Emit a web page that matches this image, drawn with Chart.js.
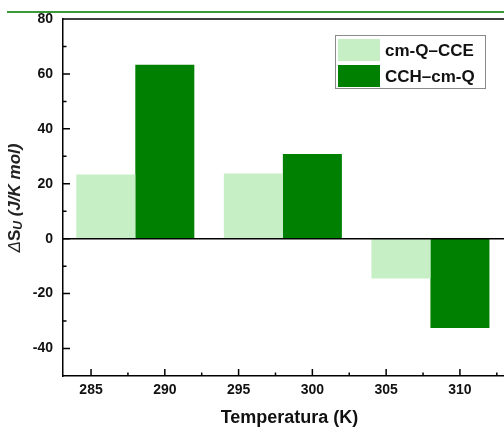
<!DOCTYPE html>
<html>
<head>
<meta charset="utf-8">
<script src="https://cdn.jsdelivr.net/npm/chart.js@4.4.0/dist/chart.umd.min.js"></script>
<style>
  html, body { margin: 0; padding: 0; background: #fff; overflow: hidden; }
  #wrap { position: relative; width: 504px; height: 430px; overflow: hidden; }
  #plot { position: absolute; left: 0; top: 0; }
  #topRule { position: absolute; left: 7px; top: 11px; width: 497px; height: 2px; background: #3a9a3a; }
</style>
</head>
<body>
<div id="wrap">
  <canvas id="plot" width="516" height="430"></canvas>
  <div id="topRule"></div>
</div>
<script>
// Group centres (K) and entropy change for each series
const temps = [288, 298, 308];
const seriesNames = ['cm-Q\u2013CCE', 'CCH\u2013cm-Q'];
const cceValues = [23.4, 23.7, -14.5];
const cchValues = [63.3, 30.8, -32.5];
const xTickLabels = [285, 290, 295, 300, 305, 310];
const yTickLabels = [-40, -20, 0, 20, 40, 60, 80];

const FONT = "'Liberation Sans', Arial, sans-serif";
const X_MIN = 283.1, X_MAX = 313.8;

const near = (v, list) => list.some(t => Math.abs(t - v) < 1e-6);

// box, zero line, inward ticks, legend and y title
const framePlugin = {
    id: 'frame',
    afterDatasetsDraw(chart) {
        const { ctx, chartArea: a } = chart;
        const y = chart.scales.y;
        const xt = chart.scales.xt;

        ctx.save();
        ctx.strokeStyle = '#000';
        ctx.lineWidth = 1.5;

        // top / right border and zero line
        ctx.beginPath();
        ctx.moveTo(a.left, a.top);
        ctx.lineTo(a.right, a.top);
        ctx.lineTo(a.right, a.bottom);
        const y0 = y.getPixelForValue(0);
        ctx.moveTo(a.left, y0);
        ctx.lineTo(a.right, y0);
        ctx.stroke();

        // y ticks pointing into the plot
        ctx.beginPath();
        y.ticks.forEach(t => {
            if (t.value <= y.min || t.value >= y.max) return;
            const py = y.getPixelForValue(t.value);
            const len = near(t.value, yTickLabels) ? 7 : 3.5;
            ctx.moveTo(a.left, py);
            ctx.lineTo(a.left + len, py);
        });
        // x ticks pointing into the plot
        xt.ticks.forEach(t => {
            const px = xt.getPixelForValue(t.value);
            const len = near(t.value, xTickLabels) ? 7 : 3.5;
            ctx.moveTo(px, a.bottom);
            ctx.lineTo(px, a.bottom - len);
        });
        ctx.stroke();

        // legend
        ctx.lineWidth = 1;
        ctx.strokeStyle = '#8a8a8a';
        ctx.strokeRect(335.5, 35.5, 150, 53);
        ctx.font = 'bold 17px ' + FONT;
        ctx.textBaseline = 'middle';
        chart.data.datasets.forEach((ds, i) => {
            const top = 39 + i * 26;
            ctx.fillStyle = ds.backgroundColor;
            ctx.fillRect(338, top, 42, 22);
            ctx.fillStyle = '#111';
            ctx.fillText(ds.label, 385, top + 12);
        });

        // y axis title with subscript
        const parts = [
            { t: '\u0394', f: 'italic 17px ' + FONT, dy: 0 },
            { t: 'S', f: 'bold 17px ' + FONT, dy: 0 },
            { t: 'U', f: 'bold italic 12px ' + FONT, dy: 4 },
            { t: ' (J/K mol)', f: 'bold italic 17px ' + FONT, dy: 0 }
        ];
        let total = 0;
        parts.forEach(p => { ctx.font = p.f; p.w = ctx.measureText(p.t).width; total += p.w; });
        ctx.translate(15, 198);
        ctx.rotate(-Math.PI / 2);
        ctx.fillStyle = '#222';
        ctx.textAlign = 'left';
        let cx = -total / 2;
        parts.forEach(p => {
            ctx.font = p.f;
            ctx.fillText(p.t, cx, p.dy);
            cx += p.w;
        });
        ctx.restore();
    }
};

new Chart(document.getElementById('plot'), {
    type: 'bar',
    data: {
        datasets: [
            {
                label: seriesNames[0],
                data: temps.map((t, i) => ({ x: t, y: cceValues[i] })),
                backgroundColor: '#c6efc6',
                categoryPercentage: 0.8,
                barPercentage: 1
            },
            {
                label: seriesNames[1],
                data: temps.map((t, i) => ({ x: t, y: cchValues[i] })),
                backgroundColor: '#008000',
                categoryPercentage: 0.8,
                barPercentage: 1
            }
        ]
    },
    options: {
        responsive: false,
        animation: false,
        layout: { padding: { top: 19, left: 0, right: 0, bottom: 0 } },
        plugins: {
            legend: { display: false },
            tooltip: { enabled: false }
        },
        scales: {
            x: {
                type: 'linear',
                display: false,
                offset: false,
                min: X_MIN,
                max: X_MAX,
                ticks: { stepSize: 10, includeBounds: false }
            },
            xt: {
                type: 'linear',
                position: 'bottom',
                axis: 'x',
                offset: false,
                min: X_MIN,
                max: X_MAX,
                grid: { display: false, drawTicks: false },
                border: { display: true, color: '#000', width: 1.5 },
                ticks: {
                    stepSize: 2.5,
                    includeBounds: false,
                    autoSkip: false,
                    maxRotation: 0,
                    padding: 6,
                    color: '#111',
                    font: { family: FONT, size: 14, weight: 'bold' },
                    callback: v => near(v, xTickLabels) ? String(v) : ''
                },
                title: {
                    display: true,
                    text: 'Temperatura (K)',
                    color: '#111',
                    font: { family: FONT, size: 18, weight: 'bold' },
                    padding: { top: 0, bottom: 1 }
                },
                afterFit: s => { s.height = 54; }
            },
            y: {
                min: -50,
                max: 80,
                grid: { display: false, drawTicks: false },
                border: { display: true, color: '#000', width: 1.5 },
                ticks: {
                    stepSize: 10,
                    autoSkip: false,
                    padding: 10,
                    color: '#111',
                    font: { family: FONT, size: 14, weight: 'bold' },
                    callback: v => near(v, yTickLabels) ? String(v) : ''
                },
                afterFit: s => { s.width = 63; }
            }
        }
    },
    plugins: [framePlugin]
});
</script>
</body>
</html>
